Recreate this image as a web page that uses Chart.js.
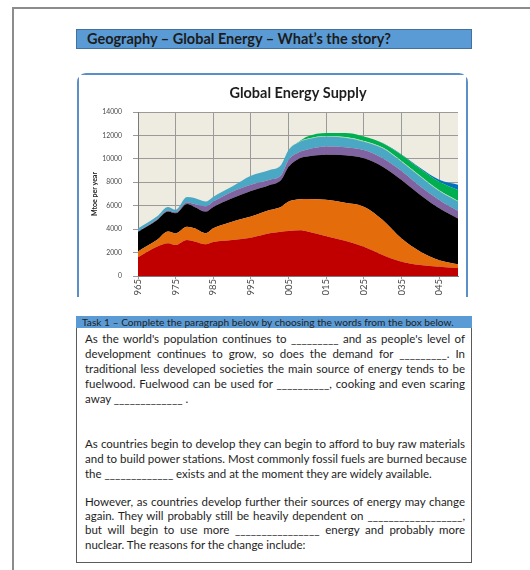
<!DOCTYPE html>
<html>
<head>
<meta charset="utf-8">
<script src="https://cdn.jsdelivr.net/npm/chart.js@4.4.1/dist/chart.umd.min.js"></script>
<style>
  html, body { margin:0; padding:0; background:#fff; width:530px; height:570px; overflow:hidden; }
  body { position:relative; font-family: Lato, "Open Sans", sans-serif; color:#1e1e1e; }
  #page { position:absolute; left:12px; top:7px; width:600px; height:600px; border:2px solid #8c8c8c; box-sizing:border-box; }
  #head { position:absolute; left:76px; top:29px; width:396px; height:20px; background:#5b9bd5; border:1px solid #41719c; box-sizing:border-box;
          font-weight:bold; font-size:14.5px; line-height:18px; padding-left:10px; color:#1c1c1c; white-space:nowrap; }
  #chartbox { position:absolute; left:77px; top:73px; width:391px; height:240px; border:2px solid #5b8fc7; border-radius:9px; box-sizing:border-box; }
  #chartclip { position:absolute; left:79px; top:75px; width:387px; height:220px; overflow:hidden; background:#fff; }
  #whiteout { position:absolute; left:70px; top:297px; width:410px; height:19px; background:#fff; }
  #task { position:absolute; left:76px; top:316px; width:396px; height:247px; border:1.5px solid #5a5a5a; border-top:none; box-sizing:border-box; }
  #taskhead { position:absolute; left:76px; top:315.5px; width:396px; height:12px; background:#5b9bd5; font-size:10.2px; line-height:12px; padding-left:6px; box-sizing:border-box; color:#222; white-space:nowrap; }
  .para { position:absolute; left:85px; width:380px; font-size:11.5px; color:#1e1e1e; }
  .para div { white-space:nowrap; text-align:justify; text-align-last:justify; }
  .para div.last { text-align-last:left; }
</style>
</head>
<body>
<div id="page"></div>
<div id="head">Geography – Global Energy – What’s the story?</div>
<div id="chartbox"></div>
<div id="chartclip"><canvas id="c" width="387" height="235"></canvas></div>
<div id="whiteout"></div>
<div id="task"></div>
<div id="taskhead">Task 1 – Complete the paragraph below by choosing the words from the box below.</div>
<div class="para" style="top:330.5px; line-height:15px;">
  <div>As the world's population continues to _________ and as people's level of</div>
  <div>development continues to grow, so does the demand for _________. In</div>
  <div>traditional less developed societies the main source of energy tends to be</div>
  <div>fuelwood. Fuelwood can be used for __________, cooking and even scaring</div>
  <div class="last">away _____________ .</div>
</div>
<div class="para" style="top:435.5px; line-height:15px;">
  <div>As countries begin to develop they can begin to afford to buy raw materials</div>
  <div>and to build power stations. Most commonly fossil fuels are burned because</div>
  <div class="last">the _____________ exists and at the moment they are widely available.</div>
</div>
<div class="para" style="top:494.8px; line-height:14.3px;">
  <div>However, as countries develop further their sources of energy may change</div>
  <div>again. They will probably still be heavily dependent on __________________,</div>
  <div>but will begin to use more ________________ energy and probably more</div>
  <div class="last">nuclear. The reasons for the change include:</div>
</div>
<script>
const years   = [1965,1970,1973,1975,1978,1980,1983,1985,1990,1995,2000,2003,2005,2008,2010,2015,2020,2025,2030,2035,2040,2045,2050];
const oil     = [1600,2500,2800,2650,3070,2950,2700,2900,3070,3270,3640,3780,3850,3900,3800,3400,3000,2500,1800,1220,940,780,680];
const gas     = [500,570,1000,1000,1130,1120,950,1170,1570,1800,1990,2120,2500,2650,2770,3100,3250,3420,2980,1980,1140,570,320];
const coal    = [1650,1680,1700,1700,1950,1830,1850,1830,1990,2180,2140,2300,2980,3500,3630,3850,4050,4130,4550,5000,4840,4430,3900];
const nuclear = [50,70,100,100,150,250,450,450,570,550,450,400,570,550,600,700,700,710,720,760,710,710,650];
const hydro   = [250,250,300,200,450,500,400,420,430,750,830,880,850,870,870,850,800,710,850,800,850,770,800];
const biomass = [0,0,0,0,0,0,0,0,0,0,0,0,0,20,50,60,60,60,60,60,60,60,60];
const wind    = [0,0,0,0,0,0,0,0,0,0,0,0,0,30,180,240,340,370,370,510,600,730,940];
const solar   = [0,0,0,0,0,0,0,0,0,0,0,0,0,0,0,0,0,0,20,50,80,170,450];
const xTicks  = [1965,1975,1985,1995,2005,2015,2025,2035,2045];
const yTicks  = [0,2000,4000,6000,8000,10000,12000,14000];

const series = [
  ['Oil', oil, '#c00000'],
  ['Gas', gas, '#e46c0a'],
  ['Coal', coal, '#000000'],
  ['Nuclear', nuclear, '#8064a2'],
  ['Hydro', hydro, '#4aa8c4'],
  ['Biomass', biomass, '#a8e2a0'],
  ['Wind', wind, '#00b050'],
  ['Solar', solar, '#0070c0']
];

const plotBg = {
  id:'plotBg',
  beforeDraw(chart){
    const {ctx, chartArea:a} = chart;
    ctx.save(); ctx.fillStyle = '#eeece1';
    ctx.fillRect(a.left, a.top, a.right-a.left, a.bottom-a.top);
    ctx.restore();
  }
};

new Chart(document.getElementById('c'), {
  type:'line',
  data:{
    datasets: series.map((s,i)=>({
      label:s[0],
      data: years.map((yr,j)=>({x:yr, y:s[1][j]})),
      backgroundColor:s[2],
      borderColor:s[2],
      borderWidth:0,
      pointRadius:0,
      fill: i===0 ? 'origin' : '-1',
      cubicInterpolationMode:'monotone'
    }))
  },
  options:{
    responsive:false,
    animation:false,
    devicePixelRatio:1,
    layout:{padding:{left:12,right:8,top:0,bottom:0}},
    plugins:{
      legend:{display:false},
      tooltip:{enabled:false},
      title:{display:true, fullSize:false, text:'Global Energy Supply', color:'#1e1e1e',
        font:{family:'Lato', size:14.5, weight:'bold', lineHeight:1.2},
        padding:{top:9.3, bottom:10.3}}
    },
    scales:{
      x:{type:'linear', min:1965, max:2050,
        afterBuildTicks(s){ s.ticks = xTicks.map(v=>({value:v})); },
        afterFit(s){ s.height = 34; },
        ticks:{minRotation:90, maxRotation:90, autoSkip:false, padding:0,
          color:'#4a4a4a', font:{family:'Lato', size:9.5},
          callback:v=>String(v)},
        grid:{color:'#9a9a9a', lineWidth:1, tickLength:3, drawTicks:true},
        border:{color:'#7a7a7a'}
      },
      y:{stacked:true, min:0, max:14000,
        afterBuildTicks(s){ s.ticks = yTicks.map(v=>({value:v})); },
        afterFit(s){ s.width = 47; },
        ticks:{padding:11, color:'#4a4a4a', font:{family:'Lato', size:6.8}, callback:v=>String(v)},
        grid:{color:'#9a9a9a', lineWidth:1, tickLength:5},
        border:{color:'#7a7a7a'},
        title:{display:true, text:'Mtoe per year', color:'#222', font:{family:'Lato', size:7, weight:'bold'}, padding:{top:0,bottom:4}}
      }
    }
  },
  plugins:[plotBg]
});
</script>
</body>
</html>
